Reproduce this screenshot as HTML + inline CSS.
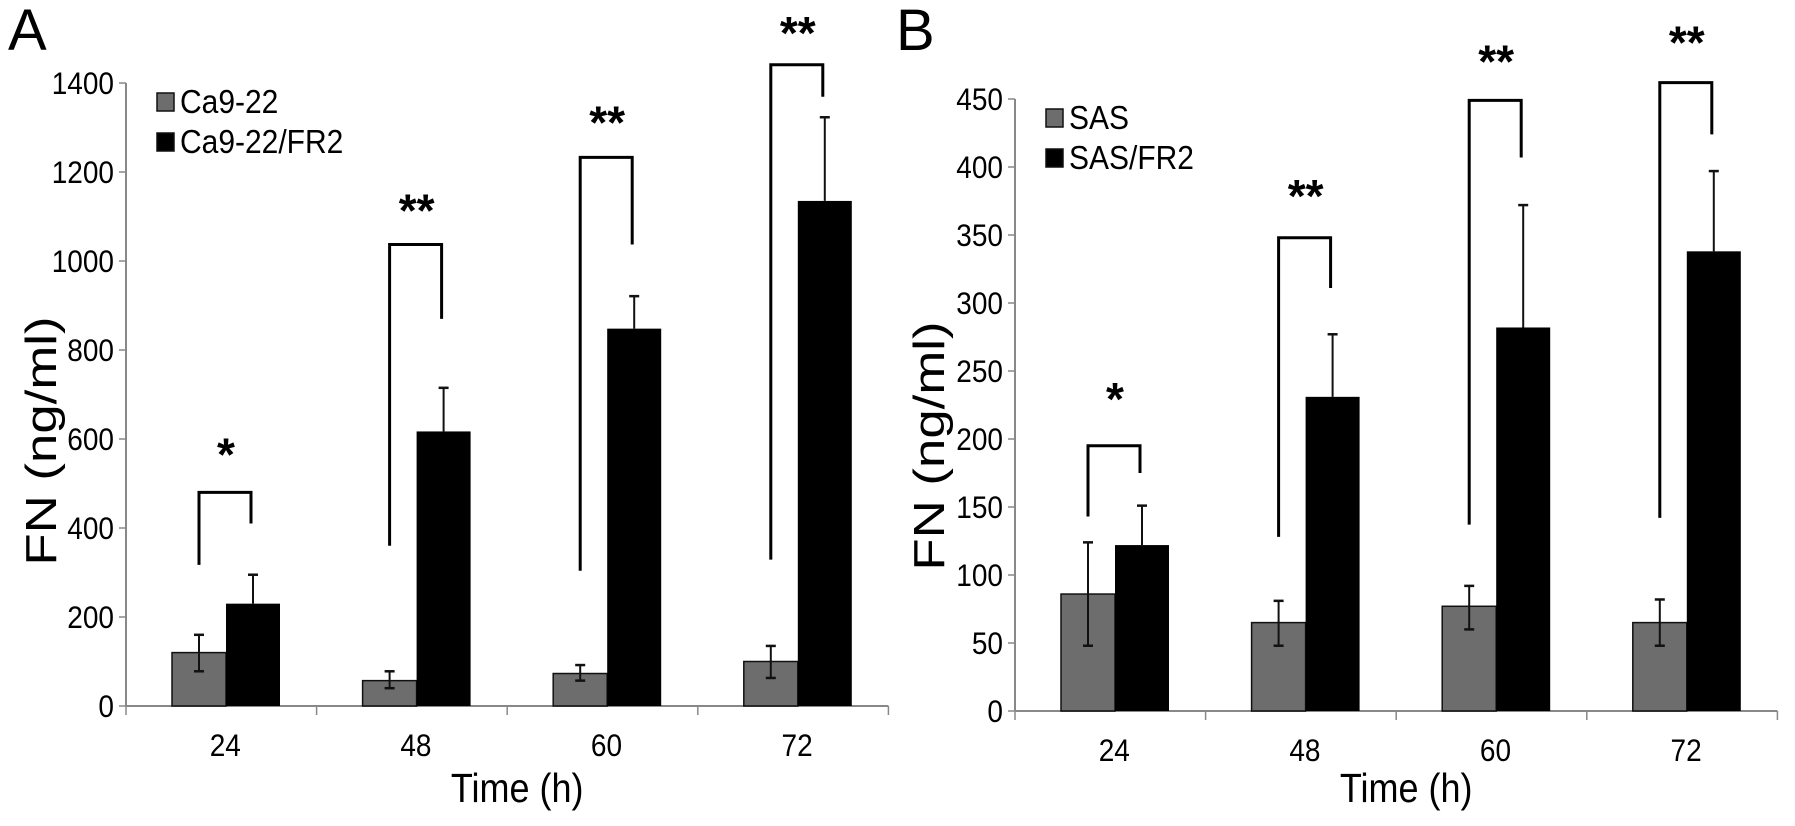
<!DOCTYPE html>
<html><head><meta charset="utf-8"><style>
html,body{margin:0;padding:0;background:#fff;}
svg{display:block;font-family:"Liberation Sans",Arial,sans-serif;}
</style></head><body>
<svg id="fig" width="1795" height="826" viewBox="0 0 1795 826" xmlns="http://www.w3.org/2000/svg"></svg>
<script>
const categories = ["24","48","60","72"];
// Panel A
const aTicks = [0,200,400,600,800,1000,1200,1400];
const aGrey = [120,57,73,100];
const aGreyHi = [160,78,92,135];
const aGreyLo = [78,40,57,63];
const aBlack = [230,617,848,1135];
const aBlackHi = [295,715,921,1323];
const aBrTop = [480,1037,1233,1441];
const aBrLeft = [317,360,304,329];
const aBrRight = [410,870,1037,1369];
const aStars = ["*","**","**","**"];
const aStarY = [579,1127,1325,1526];
// Panel B
const bTicks = [0,50,100,150,200,250,300,350,400,450];
const bGrey = [86,65,77,65];
const bGreyHi = [124,81,92,82];
const bGreyLo = [48,48,60,48];
const bBlack = [122,231,282,338];
const bBlackHi = [151,277,372,397];
const bBrTop = [195,348,449,462];
const bBrLeft = [143,128,137,142];
const bBrRight = [175,311,407,424];
const bStars = ["*","**","**","**"];
const bStarY = [234,383,482,496];

const NS="http://www.w3.org/2000/svg";
const svg=document.getElementById('fig');
function el(tag,attrs,parent,text){const e=document.createElementNS(NS,tag);for(const k in attrs)e.setAttribute(k,attrs[k]);if(text!==undefined)e.textContent=text;(parent||svg).appendChild(e);return e;}

function panel(cfg){
  const g=el('g',{});
  
  
  const x0=cfg.x0, y0=cfg.y0, band=cfg.band, max=cfg.max, h=cfg.h;
  const y=v=>y0-v/max*h;
  const bx=i=>x0+i*band;
  const L=el('text',{x:cfg.letterX,y:50,'font-size':58},g,cfg.letter);
  
  
  const ya=el('line',{x1:x0,y1:y(max),x2:x0,y2:y0,stroke:'#888','stroke-width':2},g);
  
  
  cfg.ticks.forEach(t=>{
    el('line',{x1:x0-7,y1:y(t),x2:x0,y2:y(t),stroke:'#888','stroke-width':1.5},g);
    const tl=el('text',{x:0,y:0,'font-size':28,'text-anchor':'end',transform:`translate(${x0-12},${y(t)+11}) scale(1,1.12)`},g,String(t));
    
    
  });
  const xa=el('line',{x1:x0,y1:y0,x2:x0+4*band,y2:y0,stroke:'#888','stroke-width':2},g);
  
  
  for(let i=0;i<=4;i++) el('line',{x1:bx(i),y1:y0,x2:bx(i),y2:y0+9,stroke:'#888','stroke-width':1.5},g);
  categories.forEach((c,i)=>{
    const t=el('text',{x:0,y:0,'font-size':28,'text-anchor':'middle',transform:`translate(${bx(i)+band/2+4},${y0+50}) scale(1,1.12)`},g,c);
    
    
  });
  const bw=54;
  categories.forEach((c,i)=>{
    const gx=bx(i)+46, kx=gx+bw;
    const gc=gx+bw/2, kc=kx+bw/2;
    const gb=el('rect',{x:gx,y:y(cfg.grey[i]),width:bw,height:y0-y(cfg.grey[i]),fill:'#6d6d6d',stroke:'#111','stroke-width':1.5},g);
    
    
    el('line',{x1:gc,y1:y(cfg.greyHi[i]),x2:gc,y2:y(cfg.greyLo[i]),stroke:'#111','stroke-width':2},g);
    el('line',{x1:gc-5,y1:y(cfg.greyHi[i]),x2:gc+5,y2:y(cfg.greyHi[i]),stroke:'#111','stroke-width':2.5},g);
    el('line',{x1:gc-5,y1:y(cfg.greyLo[i]),x2:gc+5,y2:y(cfg.greyLo[i]),stroke:'#111','stroke-width':2.5},g);
    const kb=el('rect',{x:kx,y:y(cfg.black[i]),width:bw,height:y0-y(cfg.black[i]),fill:'#000'},g);
    
    
    el('line',{x1:kc,y1:y(cfg.blackHi[i]),x2:kc,y2:y(cfg.black[i]),stroke:'#111','stroke-width':2},g);
    el('line',{x1:kc-5,y1:y(cfg.blackHi[i]),x2:kc+5,y2:y(cfg.blackHi[i]),stroke:'#111','stroke-width':2.5},g);
    const br=el('polyline',{points:`${gc},${y(cfg.brLeft[i])} ${gc},${y(cfg.brTop[i])} ${kc-2},${y(cfg.brTop[i])} ${kc-2},${y(cfg.brRight[i])}`,fill:'none',stroke:'#000','stroke-width':3},g);
    
    
    const st=el('text',{x:(gc+kc)/2,y:y(cfg.starY[i])+22,'font-size':46,'font-weight':'bold','text-anchor':'middle'},g,cfg.stars[i]);
    
    
  });
  const xt=el('text',{x:0,y:0,'font-size':36,'text-anchor':'middle',transform:`translate(${x0+2*band+10},${802}) scale(1,1.12)`},g,'Time (h)');
  
  
  const yt=el('text',{x:0,y:0,'font-size':44,'text-anchor':'middle',transform:`translate(${cfg.ytX},${cfg.ytY}) rotate(-90) scale(1.2,1)`},g,'FN (ng/ml)');
  
  
  cfg.legend.forEach((lab,j)=>{
    const ly=cfg.legY+j*40;
    const sw=el('rect',{x:x0+31,y:ly-9,width:17,height:18,fill:j?'#000':'#6d6d6d',stroke:'#111','stroke-width':1.5},g);
    
    
    const lt=el('text',{x:0,y:0,'font-size':30,transform:`translate(${x0+54},${ly+11}) scale(1,1.1)`},g,lab);
    
    
  });
}
panel({name:'panel-a',letter:'A',letterX:8,x0:126,y0:706,band:190.6,max:1400,h:623,ticks:aTicks,
  grey:aGrey,greyHi:aGreyHi,greyLo:aGreyLo,black:aBlack,blackHi:aBlackHi,
  brTop:aBrTop,brLeft:aBrLeft,brRight:aBrRight,stars:aStars,starY:aStarY,ytX:56,ytY:441,legY:102,legend:['Ca9-22','Ca9-22/FR2']});
panel({name:'panel-b',letter:'B',letterX:896,x0:1015,y0:711,band:190.6,max:450,h:612,ticks:bTicks,
  grey:bGrey,greyHi:bGreyHi,greyLo:bGreyLo,black:bBlack,blackHi:bBlackHi,
  brTop:bBrTop,brLeft:bBrLeft,brRight:bBrRight,stars:bStars,starY:bStarY,ytX:944,ytY:446,legY:118,legend:['SAS','SAS/FR2']});
</script>
</body></html>
